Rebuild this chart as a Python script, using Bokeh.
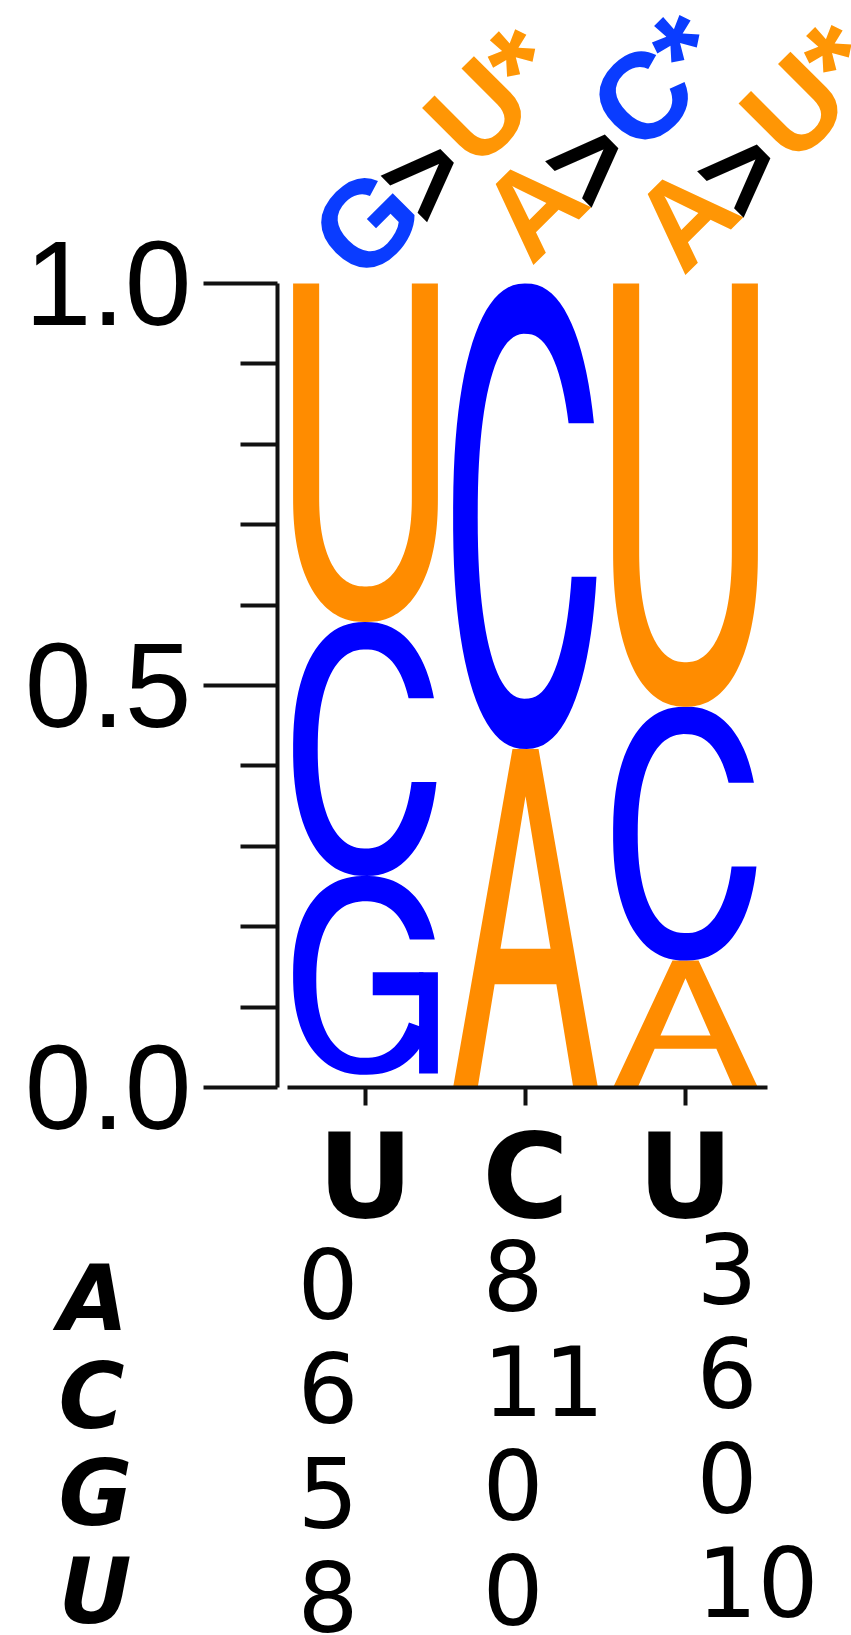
import math
import numpy as np
from bokeh.plotting import figure
from bokeh.models import ColumnDataSource, FixedTicker, LinearAxis, Range1d, NumeralTickFormatter
from bokeh.core.properties import value
from bokeh.embed import file_html
from bokeh.resources import INLINE

# ---------------- data ----------------
positions = [1, 2, 3]
consensus = ["U", "C", "U"]
bases = ["A", "C", "G", "U"]
counts_A = [0, 8, 3]
counts_C = [6, 11, 6]
counts_G = [5, 0, 0]
counts_U = [8, 0, 10]
mut_from = ["G", "A", "A"]
mut_to = ["U", "C", "U"]
y_ticks = [0.0, 0.5, 1.0]
y_minor_ticks = [0.1, 0.2, 0.3, 0.4, 0.6, 0.7, 0.8, 0.9]

# ---------------- style ----------------
logo_colors = {"A": "#FF8C00", "U": "#FF8C00", "C": "#0000FF", "G": "#0000FF"}
label_colors = {"A": "#FF9605", "U": "#FF9605", "C": "#0A3CFF", "G": "#0A3CFF"}
W, H = 851, 1635
PX_X, PX_Y = 160.0, 804.0          # pixels per data unit
X1_PX, Y0_PX = 365.0, 1087.0       # canvas position of x=1 and y=0
x_start = 1 - X1_PX / PX_X
y_start = -(H - Y0_PX) / PX_Y
MID = 0.346                        # em offset between text anchor and baseline

p = figure(width=W, height=H, output_backend="svg", toolbar_location=None,
           x_range=Range1d(x_start, x_start + W / PX_X),
           y_range=Range1d(y_start, y_start + H / PX_Y),
           x_axis_location=None, y_axis_location=None, min_border=0)
p.outline_line_color = None
p.xgrid.visible = False
p.ygrid.visible = False
p.background_fill_color = "white"
p.border_fill_color = "white"


def px_to_x(px):
    return 1 + (px - X1_PX) / PX_X


def px_to_y(py):
    return -(py - Y0_PX) / PX_Y


# ---------------- letter templates (unit box) ----------------
NEXP = 2.3


def sarc(cx, cy, rx, ry, a0, a1, n=90):
    t = np.radians(np.linspace(a0, a1, n))
    c, s = np.cos(t), np.sin(t)
    e = 2.0 / NEXP
    return (list(cx + rx * np.sign(c) * np.abs(c) ** e),
            list(cy + ry * np.sign(s) * np.abs(s) ** e))


def cut_angle(v):
    return math.degrees(math.asin(math.copysign(min(abs(v), 1.0) ** (NEXP / 2.0), v)))


def ring(top_y, bot_y=None, end_deg=None, oc=0.5, ory=0.5, ic=0.5, iry=0.392,
         orx=0.5, irx=0.33):
    a0 = cut_angle((top_y - oc) / ory)
    i0 = cut_angle((top_y - ic) / iry)
    if end_deg is None:
        a1 = 360 + cut_angle((bot_y - oc) / ory)
        i1 = 360 + cut_angle((bot_y - ic) / iry)
    else:
        a1 = i1 = end_deg
    ox, oy = sarc(0.5, oc, orx, ory, a0, a1)
    ix, iy = sarc(0.5, ic, irx, iry, i1, i0)
    return ox + ix, oy + iy


# each template: list of items; each item: list of rings (outer first, then holes)
def tmpl_U():
    ox, oy = sarc(0.5, 0.37, 0.5, 0.37, 180, 360)
    ix, iy = sarc(0.5, 0.37, 0.32, 0.265, 360, 180)
    xs = [0.0] + ox + [1.0, 0.82] + ix + [0.18]
    ys = [1.0] + oy + [1.0, 1.0] + iy + [1.0]
    return [[(xs, ys)]]


def tmpl_C():
    return [[ring(0.70, 0.37)]]


def tmpl_G():
    r = ring(0.70, end_deg=330, oc=0.53, ory=0.47, ic=0.51, iry=0.37, irx=0.34)
    stem = ([0.87, 1.0, 1.0, 0.87], [0.066, 0.066, 0.545, 0.545])
    bar = ([0.55, 0.9, 0.9, 0.55], [0.436, 0.436, 0.545, 0.545])
    return [[r], [stem], [bar]]


def tmpl_A():
    outer = ([0.0, 0.17, 0.287, 0.713, 0.83, 1.0, 0.59, 0.41],
             [0.0, 0.0, 0.305, 0.305, 0.0, 0.0, 1.0, 1.0])
    hole = ([0.327, 0.673, 0.5], [0.41, 0.41, 0.86])
    return [[outer, hole]]


templates = {"A": tmpl_A(), "C": tmpl_C(), "G": tmpl_G(), "U": tmpl_U()}
LETTER_W = 0.905

counts = {"A": counts_A, "C": counts_C, "G": counts_G, "U": counts_U}
mx, my, mc = [], [], []
for ci, pos in enumerate(positions):
    col = [(counts[b][ci], b) for b in bases]
    total = float(sum(c for c, _ in col))
    y0 = 0.0
    for c, b in sorted(col, key=lambda t: t[0]):
        if c == 0:
            continue
        h = c / total
        for item in templates[b]:
            rx_, ry_ = [], []
            for (ux, uy) in item:
                rx_.append([pos - LETTER_W / 2 + LETTER_W * u for u in ux])
                ry_.append([y0 + h * v for v in uy])
            mx.append([rx_])
            my.append([ry_])
            mc.append(logo_colors[b])
        y0 += h

p.multi_polygons(xs="xs", ys="ys", fill_color="color", line_color=None,
                 source=ColumnDataSource(dict(xs=mx, ys=my, color=mc)))

# ---------------- axes ----------------
AX_COLOR = "#111111"
yaxis = LinearAxis(fixed_location=px_to_x(277), bounds=(0, 1),
                   ticker=FixedTicker(ticks=y_ticks, minor_ticks=y_minor_ticks),
                   formatter=NumeralTickFormatter(format="0.0"))
yaxis.axis_line_width = 4
yaxis.axis_line_color = AX_COLOR
yaxis.major_tick_line_width = 4
yaxis.major_tick_line_color = AX_COLOR
yaxis.minor_tick_line_width = 4
yaxis.minor_tick_line_color = AX_COLOR
yaxis.major_tick_in = 0
yaxis.major_tick_out = 74
yaxis.minor_tick_in = 0
yaxis.minor_tick_out = 37
yaxis.major_label_standoff = 12
yaxis.major_label_text_font = "Liberation Sans"
yaxis.major_label_text_font_size = "120px"
yaxis.major_label_text_color = "black"
p.add_layout(yaxis, "left")

xaxis = LinearAxis(fixed_location=0, bounds=(px_to_x(287), px_to_x(767)),
                   ticker=FixedTicker(ticks=positions, minor_ticks=[]),
                   major_label_overrides={pos: lab for pos, lab in zip(positions, consensus)})
xaxis.axis_line_width = 4
xaxis.axis_line_color = AX_COLOR
xaxis.major_tick_line_width = 4
xaxis.major_tick_line_color = AX_COLOR
xaxis.major_tick_in = 0
xaxis.major_tick_out = 18
xaxis.minor_tick_out = 0
xaxis.minor_tick_in = 0
xaxis.major_label_standoff = 1
xaxis.major_label_text_font = "DejaVu Sans"
xaxis.major_label_text_font_style = "bold"
xaxis.major_label_text_font_size = "118px"
xaxis.major_label_text_color = "black"
p.add_layout(xaxis, "below")

# ---------------- rotated mutation labels ----------------
ADV = {"G": 0.778, ">": 0.584, "U": 0.722, "A": 0.722, "C": 0.722, "*": 0.389}
EM = 122.0
TRACK = 0.97                                   # slightly tight letter spacing
label_nudge = [(-3, 3), (6, -16), (-2, -6)]    # px, baseline origin vs. tick / y=1
GT_SHIFT = (-6.0, -8.0)                        # (along, up) px for the ">" sign
c45 = math.cos(math.pi / 4)
tx, ty, tt, tcol, txo, tyo = [], [], [], [], [], []
for k, pos in enumerate(positions):
    parts = [(mut_from[k], label_colors[mut_from[k]]),
             (">", "black"),
             (mut_to[k], label_colors[mut_to[k]]),
             ("*", label_colors[mut_to[k]])]
    along = 0.0
    dx, dy = label_nudge[k]
    for ch, colr in parts:
        a, u = along, MID * EM
        if ch == ">":
            a += GT_SHIFT[0]
            u += GT_SHIFT[1]
        tx.append(pos)
        ty.append(1.0)
        tt.append(ch)
        tcol.append(colr)
        txo.append(dx + c45 * (a - u))
        tyo.append(dy - c45 * (a + u))
        along += ADV[ch] * EM * TRACK

p.text(x="x", y="y", text="text", text_color="color", text_font_size=f"{EM:.0f}px",
       x_offset="xo", y_offset="yo", angle=math.pi / 4,
       text_align="left", text_baseline="alphabetic",
       text_font=value("Liberation Sans"), text_font_style="bold",
       source=ColumnDataSource(dict(x=tx, y=ty, text=tt, color=tcol, xo=txo, yo=tyo)))

# ---------------- count table ----------------
NUM_SIZE, LAB_SIZE = 96.0, 90.0
ROW_BASE, ROW_STEP, COL_TILT = 1316.0, 104.5, -7.5
num_left = [297, 482, 696]
nx, ny, nt = [], [], []
for ci in range(len(positions)):
    for ri, b in enumerate(bases):
        nx.append(px_to_x(num_left[ci]))
        ny.append(px_to_y(ROW_BASE + COL_TILT * ci + ROW_STEP * ri))
        nt.append(str(counts[b][ci]))
p.text(x="x", y="y", text="text", text_color="black", text_font_size=f"{NUM_SIZE:.0f}px",
       y_offset=-MID * NUM_SIZE,
       text_align="left", text_baseline="alphabetic", text_font=value("DejaVu Sans"),
       source=ColumnDataSource(dict(x=nx, y=ny, text=nt)))

LAB_BASE, LAB_STEP = 1329.0, 97.7
p.text(x=[px_to_x(58)] * len(bases),
       y=[px_to_y(LAB_BASE + LAB_STEP * i) for i in range(len(bases))],
       text=bases, text_color="black", text_font_size=f"{LAB_SIZE:.0f}px",
       y_offset=-MID * LAB_SIZE,
       text_align="left", text_baseline="alphabetic", text_font=value("DejaVu Sans"),
       text_font_style="bold italic")

open("out.html", "w").write(file_html(p, INLINE))
